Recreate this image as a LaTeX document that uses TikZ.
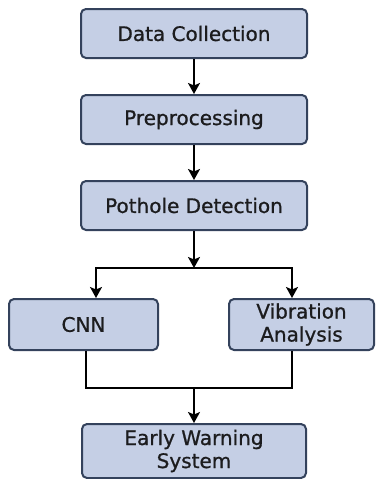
\documentclass[tikz,border=0pt]{standalone}
\usepackage{fontspec}
\setmainfont{DejaVu Sans}
\newfontfamily\boxfont{DejaVu Sans}[FakeBold=0.9]
\usepackage{tikz}
\usetikzlibrary{arrows.meta,positioning}
\definecolor{boxf}{RGB}{197,207,229}
\definecolor{boxd}{RGB}{52,66,92}
\definecolor{txtc}{RGB}{28,28,30}

\begin{document}
\begin{tikzpicture}[x=1pt,y=-1pt,>={Stealth[length=11pt,width=12pt,inset=2.5pt]},
  stage/.style={draw=boxd,fill=boxf,line width=2pt,rounded corners=5pt,
    text=txtc,align=center,inner sep=0pt,
    font=\boxfont\fontsize{20}{23}\selectfont},
  link/.style={line width=1.7pt,black}]
  \useasboundingbox (0,0) rectangle (375,479);
  % main chain
  \node[stage,minimum width=226pt,minimum height=49pt] (dc) at (194,33.5) {Data Collection};
  \node[stage,minimum width=226pt,minimum height=49pt] (pre) at (194,119.5) {Preprocessing};
  \node[stage,minimum width=226pt,minimum height=49pt] (det) at (194,205.5) {Pothole Detection};
  % two branches
  \node[stage,minimum width=149pt,minimum height=51pt] (cnn) at (83.5,324.5) {CNN};
  \node[stage,minimum width=145pt,minimum height=51pt] (vib) at (301.5,324.5) {Vibration\\Analysis};
  \node[stage,minimum width=224pt,minimum height=54pt] (ews) at (194,451) {Early Warning\\System};
  \coordinate (split) at (194,268);
  \coordinate (join) at (194,388);
  \draw[link,->] (dc) -- (pre);
  \draw[link,->] (pre) -- (det);
  \draw[link,->] (det) -- (split);
  \draw[link,->] (split) -| ([xshift=12.5pt]cnn.north);
  \draw[link,->] (split) -| ([xshift=-9.5pt]vib.north);
  \draw[link] ([xshift=2.5pt]cnn.south) |- (join) -| ([xshift=-9.5pt]vib.south);
  \draw[link,->] (join) -- (ews);
\end{tikzpicture}
\end{document}
